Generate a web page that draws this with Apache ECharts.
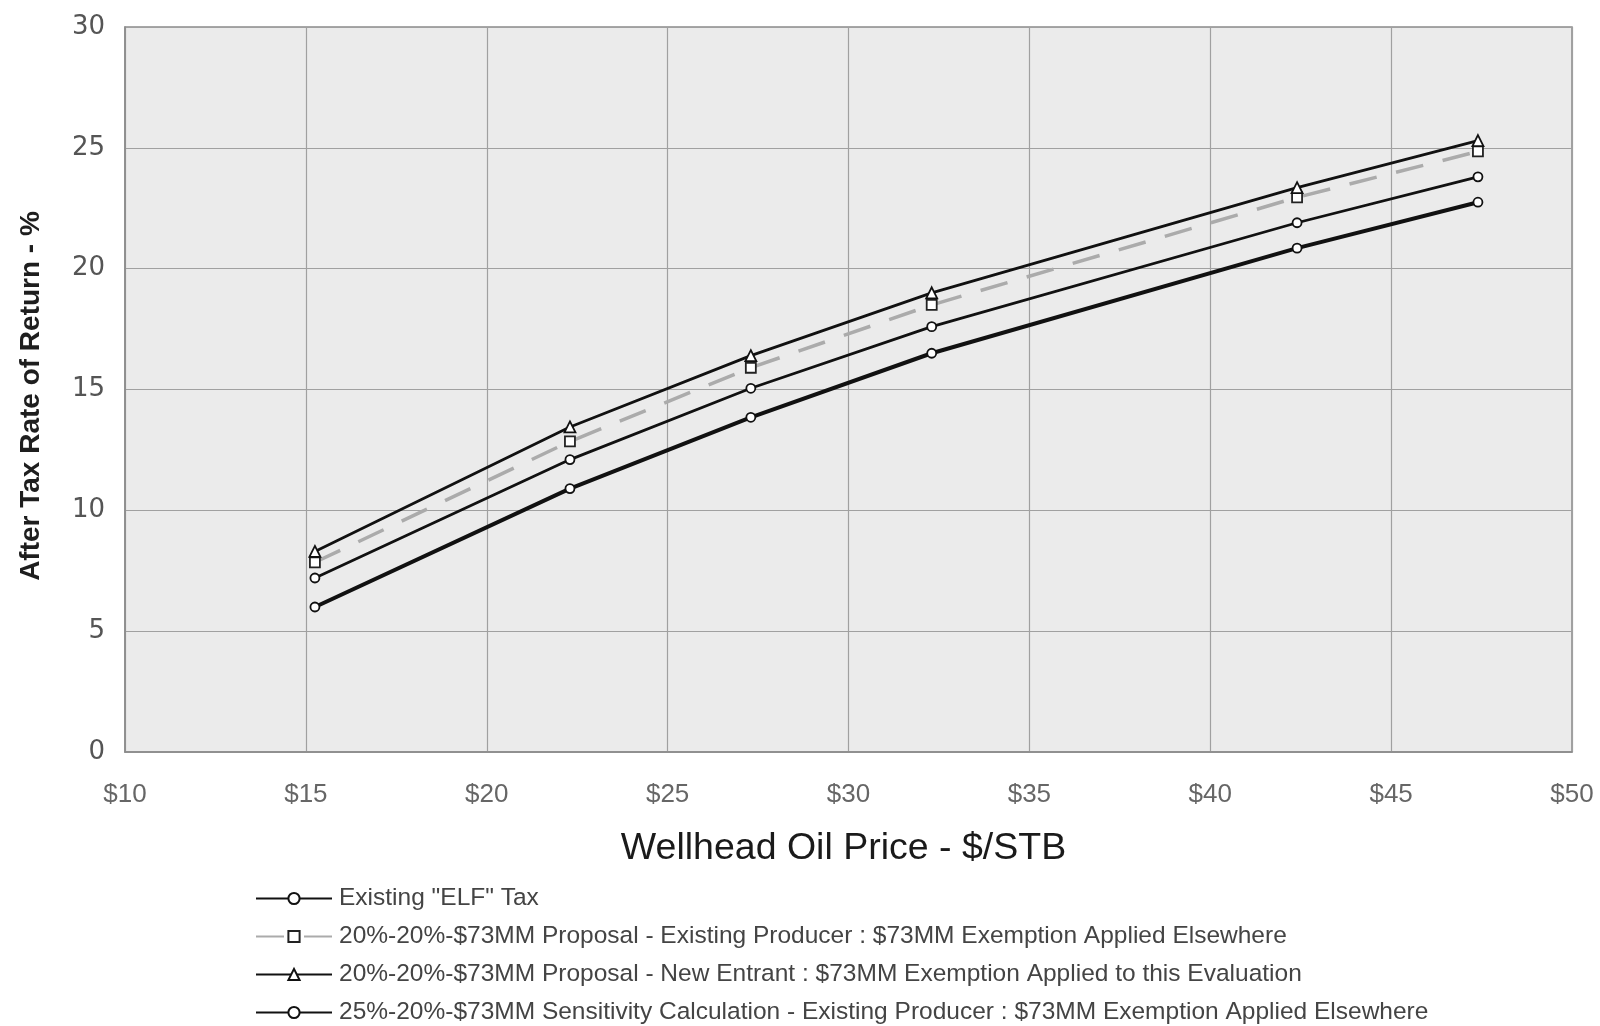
<!DOCTYPE html>
<html>
<head>
<meta charset="utf-8">
<script src="https://cdn.jsdelivr.net/npm/echarts@6/dist/echarts.min.js"></script>
<style>
  html, body { margin: 0; padding: 0; background: #ffffff; }
  #chart { width: 1600px; height: 1026px; }
</style>
</head>
<body>
<div id="chart"></div>
<script>
// Wellhead oil price ($/STB) at each evaluated case
const oilPrices = [15.25, 22.3, 27.3, 32.3, 42.4, 47.4];

// After-tax rate of return (%) for each fiscal scenario
const elfTax            = [6.0, 10.9, 13.85, 16.5, 20.85, 22.75];
const existingProducer  = [7.85, 12.85, 15.9, 18.5, 22.95, 24.85];
const newEntrant        = [8.3, 13.45, 16.4, 19.0, 23.35, 25.3];
const sensitivityCalc   = [7.2, 12.1, 15.05, 17.6, 21.9, 23.8];

const seriesNames = [
  'Existing "ELF" Tax',
  '20%-20%-$73MM Proposal - Existing Producer : $73MM Exemption Applied Elsewhere',
  '20%-20%-$73MM Proposal - New Entrant : $73MM Exemption Applied to this Evaluation',
  '25%-20%-$73MM Sensitivity Calculation - Existing Producer : $73MM Exemption Applied Elsewhere'
];

const xTicks = { min: 10, max: 50, interval: 5 };
const yTicks = { min: 0, max: 30, interval: 5 };

const pairs = vals => oilPrices.map((x, i) => [x, vals[i]]);

const narrowFont = '"Liberation Sans Narrow", "Liberation Sans", Arial, sans-serif';
const sansFont = '"Liberation Sans", Arial, sans-serif';

// one legend row per scenario, stacked under the plot
const legendTops = [886, 924, 962, 1000];
const legends = seriesNames.map((name, i) => ({
  orient: 'vertical',
  left: 255,
  top: legendTops[i],
  padding: 0,
  itemWidth: 76,
  itemHeight: 14,
  data: [name],
  textStyle: { fontFamily: sansFont, fontSize: 24.5, color: '#444444', padding: [0, 0, 0, 2] }
}));

const chart = echarts.init(document.getElementById('chart'), null, { renderer: 'canvas' });

chart.setOption({
  animation: false,
  backgroundColor: '#ffffff',
  grid: {
    left: 125, right: 28, top: 27, bottom: 274,
    show: true,
    backgroundColor: '#ebebeb',
    borderColor: '#8a8a8a',
    borderWidth: 1.5
  },
  xAxis: {
    type: 'value',
    min: xTicks.min, max: xTicks.max, interval: xTicks.interval,
    name: 'Wellhead Oil Price - $/STB',
    nameLocation: 'middle',
    nameGap: 78,
    nameTextStyle: { fontFamily: narrowFont, fontSize: 37.5, color: '#1a1a1a', padding: [0, 10, 0, 0] },
    axisLine: { show: true, lineStyle: { color: '#8a8a8a', width: 1.5 } },
    axisTick: { show: false },
    axisLabel: {
      margin: 30,
      fontFamily: narrowFont,
      fontSize: 26, color: '#666666',
      formatter: v => '$' + v
    },
    splitLine: { show: true, lineStyle: { color: '#a0a0a0', width: 1.2 } }
  },
  yAxis: {
    type: 'value',
    min: yTicks.min, max: yTicks.max, interval: yTicks.interval,
    name: 'After Tax Rate of Return - %',
    nameLocation: 'middle',
    nameGap: 80,
    nameTextStyle: {
      fontFamily: sansFont, fontSize: 28, fontWeight: 'bold', color: '#1e1e1e',
      padding: [0, 13, 0, 0]
    },
    axisLine: { show: true, lineStyle: { color: '#8a8a8a', width: 1.5 } },
    axisTick: { show: false },
    axisLabel: {
      margin: 20,
      fontFamily: '"DejaVu Sans", "Liberation Sans", sans-serif',
      fontSize: 26, color: '#555555'
    },
    splitLine: { show: true, lineStyle: { color: '#a0a0a0', width: 1.2 } }
  },
  legend: legends,
  series: [
    {
      name: seriesNames[1],
      type: 'line',
      data: pairs(existingProducer),
      z: 2,
      symbol: 'rect', symbolSize: 10,
      itemStyle: { color: '#ffffff', borderColor: '#222222', borderWidth: 1.8 },
      lineStyle: { color: '#ababab', width: 3.5, type: [28, 20] }
    },
    {
      name: seriesNames[0],
      type: 'line',
      data: pairs(elfTax),
      z: 3,
      symbol: 'circle', symbolSize: 9,
      itemStyle: { color: '#ffffff', borderColor: '#111111', borderWidth: 1.8 },
      lineStyle: { color: '#111111', width: 4 }
    },
    {
      name: seriesNames[2],
      type: 'line',
      data: pairs(newEntrant),
      z: 3,
      symbol: 'triangle', symbolSize: 11,
      itemStyle: { color: '#ffffff', borderColor: '#111111', borderWidth: 1.8 },
      lineStyle: { color: '#111111', width: 2.8 }
    },
    {
      name: seriesNames[3],
      type: 'line',
      data: pairs(sensitivityCalc),
      z: 3,
      symbol: 'circle', symbolSize: 9,
      itemStyle: { color: '#ffffff', borderColor: '#111111', borderWidth: 1.8 },
      lineStyle: { color: '#111111', width: 2.8 }
    }
  ]
});
</script>
</body>
</html>
